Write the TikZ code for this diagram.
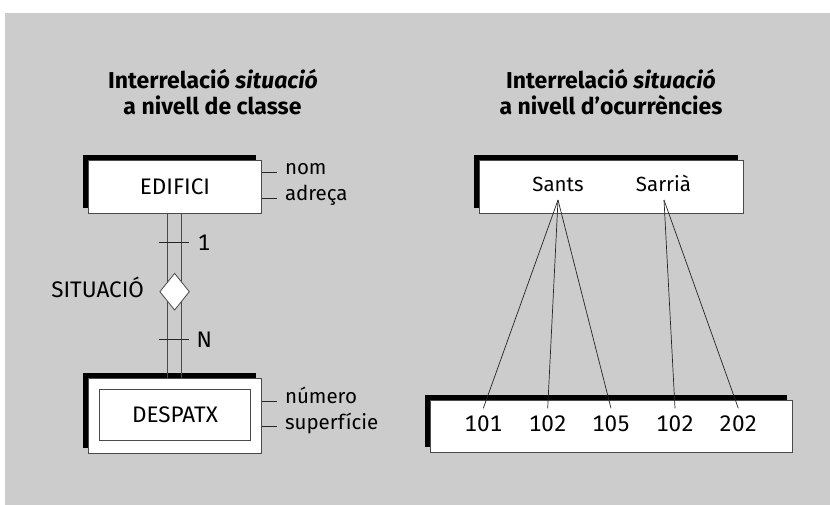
\documentclass[tikz,border=0pt]{standalone}
\usepackage{fontspec}
\setmainfont[Numbers=Monospaced]{Fira Sans}
\usetikzlibrary{shapes.geometric,shadows,calc}
\definecolor{bg}{HTML}{CCCCCC}
\definecolor{edge}{HTML}{4A4A4A}
\begin{document}
\begin{tikzpicture}[x=1pt,y=-1pt,
  every node/.style={inner sep=0pt, outer sep=0pt},
  txt/.style={font=\fontsize{20.5}{24}\selectfont},
  captxt/.style={font=\fontsize{22.5}{24}\selectfont},
  numtxt/.style={font=\fontsize{22.5}{24}\selectfont, anchor=base},
  ttl/.style={font=\fontsize{23}{26}\selectfont\bfseries, anchor=base},
  entbox/.style={draw=edge, line width=0.8pt, fill=white,
    general shadow={fill=black, shadow xshift=-5.5pt, shadow yshift=5.5pt}},
  inbox/.style={draw=edge, line width=0.8pt, fill=white},
  conn/.style={line width=0.7pt, black!85},
  dbl/.style={line width=0.8pt, edge},
  rel/.style={diamond, draw=edge, line width=0.8pt, fill=white, aspect=0.8,
    minimum width=29.4pt, minimum height=36.6pt}
]
\useasboundingbox (0,0) rectangle (830,505);
\fill[white] (0,0) rectangle (830,505);
\fill[bg] (5,13) rectangle (830,505);

% titles
\node[ttl] (tla) at (213,88.3) {Interrelació \textit{situació}};
\node[ttl] (tlb) at (212.5,114.3) {a nivell de classe};
\node[ttl] (tra) at (611,88.3) {Interrelació \textit{situació}};
\node[ttl] (trb) at (611,114.3) {a nivell d’ocurrències};

% left: class level
\node[entbox, captxt, minimum width=173.4pt, minimum height=52.6pt] (edif) at (175,187) {\raisebox{1.5pt}{EDIFICI}};
\node[entbox, minimum width=173.4pt, minimum height=75pt] (desp) at (175,415.8) {};
\node[inbox, captxt, minimum width=151.4pt, minimum height=50.7pt] (despin) at (175,414.7) {DESPATX};

\draw[dbl] ([xshift=-7.6pt]edif.south) -- ([xshift=-7.6pt]desp.north);
\draw[dbl] ([xshift=6.8pt]edif.south) -- ([xshift=6.8pt]desp.north);
\node[rel] (sit) at (174.6,291.7) {};
\node[captxt, anchor=base east] (sitl) at (144,297.3) {SITUACIÓ};

\coordinate (k1) at (174.2,242.7);
\coordinate (k2) at (174.2,339.3);
\draw[conn] ([xshift=-14.9pt]k1) -- ([xshift=14.9pt]k1);
\draw[conn] ([xshift=-14.9pt]k2) -- ([xshift=14.9pt]k2);
\node[captxt, anchor=west] (c1) at (197.5,242.7) {1};
\node[captxt, anchor=west] (cn) at (196.5,339.8) {N};

% attributes
\coordinate (a1) at (261.7,172.3);
\coordinate (a2) at (261.7,198.3);
\coordinate (a3) at (261.7,401);
\coordinate (a4) at (261.7,426.7);
\node[txt, anchor=mid west] (nom) at (285,172.3) {nom};
\node[txt, anchor=mid west] (adr) at (285,198.3) {adreça};
\node[txt, anchor=mid west] (num) at (285,401) {número};
\node[txt, anchor=mid west] (sup) at (285,426.7) {superfície};
\draw[conn] (a1) -- ([xshift=-8pt]nom.west |- a1);
\draw[conn] (a2) -- ([xshift=-8pt]adr.west |- a2);
\draw[conn] (a3) -- ([xshift=-8pt]num.west |- a3);
\draw[conn] (a4) -- ([xshift=-8pt]sup.west |- a4);

% right: occurrence level
\node[entbox, minimum width=264pt, minimum height=52.6pt] (occa) at (611.3,187) {};
\node[entbox, minimum width=362pt, minimum height=52pt] (occb) at (611.7,426.7) {};

\node[txt, anchor=base] (sants) at (558,191.7) {Sants};
\node[txt, anchor=base] (sarria) at (663.5,191.7) {Sarrià};

\node[numtxt] (n1) at (483.3,431.7) {101};
\node[numtxt] (n2) at (547.7,431.7) {102};
\node[numtxt] (n3) at (611,431.7) {105};
\node[numtxt] (n4) at (675,431.7) {102};
\node[numtxt] (n5) at (738.3,431.7) {202};

\coordinate (sa) at ($(sants.base)+(0,8.3)$);
\coordinate (sr) at ($(sarria.base)+(0.5,8.3)$);
\draw[conn] (sa) -- ($(n1.base)+(0,-23.4)$);
\draw[conn] (sa) -- ($(n2.base)+(0,-23.4)$);
\draw[conn] (sa) -- ($(n3.base)+(0,-23.4)$);
\draw[conn] (sr) -- ($(n4.base)+(0,-23.4)$);
\draw[conn] (sr) -- ($(n5.base)+(0,-23.4)$);
\end{tikzpicture}
\end{document}
